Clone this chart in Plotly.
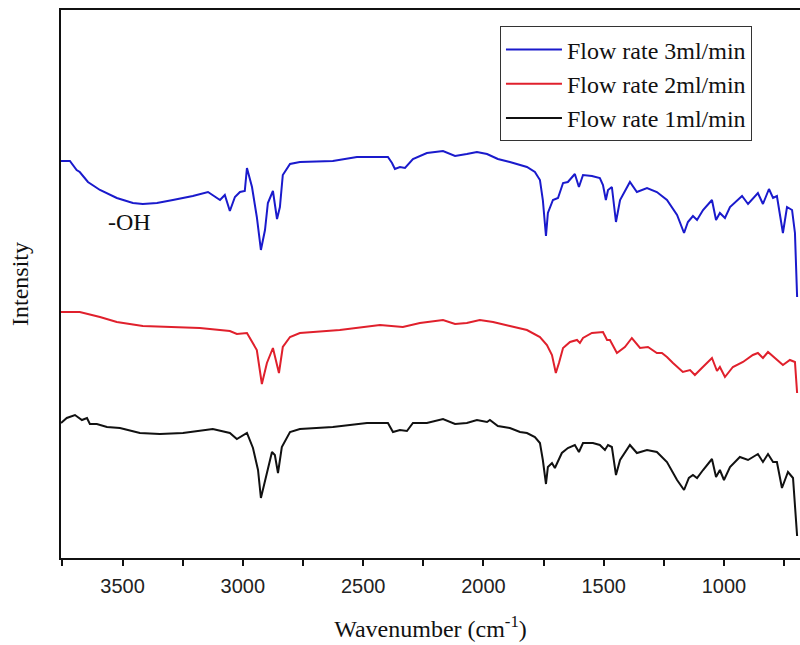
import plotly.graph_objects as go

# ---- data (wavenumber in cm^-1, intensity in arbitrary units, offset traces) ----
wn_3ml = [3756,3719,3691,3678,3644,3594,3524,3457,3416,3357,3291,3208,3145,3125,3095,3075,3054,3033,3012,2992,
          2983,2962,2942,2925,2908,2896,2875,2858,2846,2834,2804,2763,2626,2526,2397,2380,2368,2347,2326,2293,
          2235,2168,2118,2069,2027,1985,1940,1890,1861,1819,1786,1765,1753,1740,1732,1711,1690,1669,1649,1620,
          1603,1586,1549,1516,1503,1491,1482,1466,1449,1432,1391,1362,1320,1279,1237,1195,1166,1150,1129,1112,
          1087,1050,1033,1017,996,975,925,900,859,838,813,796,780,755,738,717,705,696]
int_3ml = [397,397,388,386,376,368,360,355,354,355,358,362,366,363,358,363,347,361,366,367,
           390,371,341,308,328,355,367,339,351,383,394,396,397,401,401,395,389,391,390,399,
           405,407,402,404,406,404,399,396,394,391,386,378,358,322,345,358,360,375,376,384,
           371,383,382,380,373,358,368,371,336,358,376,366,370,366,358,343,325,336,342,338,
           348,358,338,345,340,351,362,354,365,354,369,360,362,325,351,348,325,261]

wn_2ml = [3756,3678,3594,3524,3416,3316,3179,3054,3025,2983,2962,2942,2921,2900,2875,2850,2834,2804,2763,2597,
          2430,2335,2264,2168,2118,2069,2015,1960,1890,1819,1765,1736,1715,1699,1686,1669,1640,1611,1599,1586,
          1549,1503,1486,1474,1445,1412,1383,1349,1316,1279,1258,1237,1212,1171,1141,1121,1092,1050,1029,1017,
          996,963,921,880,859,838,817,788,755,726,705,696]
int_2ml = [246,246,241,236,232,231,230,227,224,225,216,208,174,195,210,185,211,221,225,228,
           233,231,235,238,234,235,238,236,232,228,221,213,203,185,195,210,216,218,215,220,
           225,226,218,218,205,211,220,210,211,205,205,201,195,186,188,183,190,200,187,191,
           181,191,196,203,205,200,206,200,193,198,196,165]

wn_1ml = [3756,3732,3698,3669,3648,3636,3607,3565,3511,3428,3345,3249,3125,3054,3025,2983,2958,2937,2925,2908,
          2879,2867,2854,2838,2804,2763,2626,2484,2397,2376,2347,2318,2293,2235,2168,2118,2069,2027,1985,1973,
          1940,1890,1848,1819,1786,1765,1753,1740,1732,1715,1703,1674,1649,1620,1603,1586,1545,1516,1495,1482,
          1466,1449,1432,1391,1362,1320,1279,1237,1195,1166,1146,1129,1112,1087,1050,1033,1017,1000,975,934,
          900,859,838,817,796,780,759,734,713,696]
int_1ml = [135,140,143,138,140,134,134,131,130,125,124,125,129,125,119,125,110,88,60,78,
           106,103,85,111,126,129,131,135,135,126,128,127,135,135,139,134,135,138,136,138,
           132,130,126,125,121,115,98,74,91,95,90,105,110,113,106,115,115,113,108,113,
           111,83,98,113,105,108,106,96,78,68,80,83,80,88,99,81,88,78,91,101,
           98,104,96,104,96,96,70,86,80,22]

series_names = ["Flow rate 3ml/min", "Flow rate 2ml/min", "Flow rate 1ml/min"]
series_colors = ["#1a1acc", "#e0202c", "#111111"]
x_ticks = [3500, 3000, 2500, 2000, 1500, 1000]
x_range = [3756, 684]
y_range = [0, 548]
oh_label = "-OH"
oh_pos = (3470, 336)

fig = go.Figure()
for wn, it, name, col in zip([wn_3ml, wn_2ml, wn_1ml], [int_3ml, int_2ml, int_1ml], series_names, series_colors):
    fig.add_trace(go.Scatter(x=wn, y=it, mode="lines", name=name,
                             line=dict(color=col, width=2)))

fig.add_annotation(x=oh_pos[0], y=oh_pos[1], text=oh_label, showarrow=False,
                   font=dict(family="Liberation Serif", size=24, color="#111"))

fig.update_layout(
    width=800, height=645,
    margin=dict(l=61, r=0, t=10, b=87, autoexpand=False),
    paper_bgcolor="white", plot_bgcolor="white",
    showlegend=True,
    legend=dict(x=0.935, y=0.97, xanchor="right", yanchor="top",
                bordercolor="#333", borderwidth=1, bgcolor="white",
                font=dict(family="Liberation Serif", size=24, color="#111"),
                itemwidth=56, tracegroupgap=0),
    xaxis=dict(range=x_range, tickvals=x_ticks, ticks="outside", ticklen=6, tickwidth=1.5,
               tickcolor="#111", showline=True, linecolor="#111", linewidth=2, mirror=True,
               showgrid=False, zeroline=False, automargin=False, ticklabelstandoff=3,
               minor=dict(dtick=250, ticks="outside", ticklen=6, tickwidth=1.5, tickcolor="#111"),
               tickfont=dict(family="Liberation Sans", size=20, color="#222"),
               title=dict(text="Wavenumber (cm<sup>-1</sup>)", standoff=24,
                          font=dict(family="Liberation Serif", size=24, color="#111"))),
    yaxis=dict(range=y_range, showticklabels=False, ticks="", showline=True, linecolor="#111",
               linewidth=2, mirror=True, showgrid=False, zeroline=False, automargin=False,
               title=dict(text="Intensity", standoff=24,
                          font=dict(family="Liberation Serif", size=24, color="#111"))),
)

# remove the browser's default page margin so the 800x645 figure fills the window
fig.write_html("out.html",
               config={"displayModeBar": False},
               post_script="document.body.style.margin='0';"
                           "document.documentElement.style.overflow='hidden';")
